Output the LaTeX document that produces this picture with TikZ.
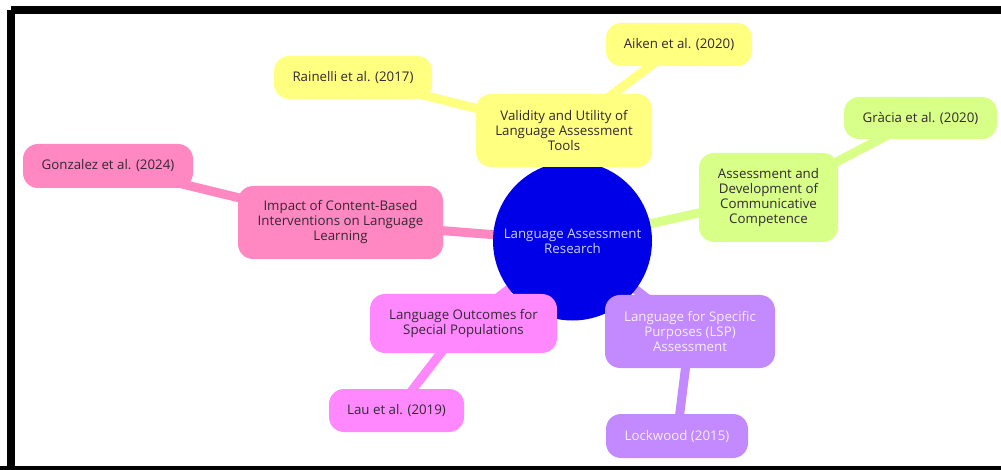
\documentclass[tikz,border=0pt]{standalone}
\usepackage{fontspec}
\setmainfont{Open Sans}
\usetikzlibrary{backgrounds}
\begin{document}
\definecolor{hubblue}{HTML}{0000E8}
\definecolor{hubtext}{HTML}{CFCFFF}
\definecolor{cyellow}{HTML}{FFFF80}
\definecolor{cpink}{HTML}{FF88C2}
\definecolor{cgreen}{HTML}{D8FF88}
\definecolor{cmagenta}{HTML}{FF88FF}
\definecolor{cpurple}{HTML}{C389FF}
\definecolor{inktext}{HTML}{332833}
\definecolor{lighttext}{HTML}{F4EEFF}
\begin{tikzpicture}[x=1pt,y=-1pt,
  topic/.style={rounded corners=15pt, align=center, inner sep=0pt,
    font=\fontsize{13.3}{15}\selectfont, text=inktext},
  link/.style={line width=9pt},
]
\useasboundingbox (0,0) rectangle (1001,470);
% outer frame
\draw[line width=8pt] (11,10) -- (1010,10);
\draw[line width=8pt] (11,10) -- (11,470);
\draw[line width=8pt] (0,470) -- (1001,470);

% hub and topics
\node[circle, fill=hubblue, minimum size=159pt, inner sep=0pt, align=center,
      text=hubtext, font=\fontsize{13.3}{15}\selectfont]
  (hub) at (572.5,241) {Language Assessment\\Research};

\node[topic, fill=cyellow, minimum width=176pt, minimum height=73pt]
  (valid) at (564,130.5) {Validity and Utility of\\Language Assessment\\Tools};
\node[topic, fill=cyellow, minimum width=146pt, minimum height=43pt]
  (aiken) at (679,44.5) {Aiken et al. (2020)};
\node[topic, fill=cyellow, minimum width=158pt, minimum height=43pt]
  (rain) at (353,77.5) {Rainelli et al. (2017)};

\node[topic, fill=cpink, minimum width=205pt, minimum height=73pt]
  (impact) at (340.5,222.5) {Impact of Content-Based\\Interventions on Language\\Learning};
\node[topic, fill=cpink, minimum width=170pt, minimum height=44pt]
  (gonz) at (108,166) {Gonzalez et al. (2024)};

\node[topic, fill=cgreen, minimum width=139pt, minimum height=89pt]
  (assess) at (768.5,197.5) {Assessment and\\Development of\\Communicative\\Competence};
\node[topic, fill=cgreen, minimum width=153pt, minimum height=42pt]
  (gracia) at (920.5,118) {Gràcia et al. (2020)};

\node[topic, fill=cmagenta, minimum width=187pt, minimum height=59pt]
  (outc) at (463.5,323.5) {Language Outcomes for\\Special Populations};
\node[topic, fill=cmagenta, minimum width=135pt, minimum height=43pt]
  (lau) at (396.5,410.5) {Lau et al. (2019)};

\node[topic, fill=cpurple, text=lighttext, minimum width=170pt, minimum height=73pt]
  (lsp) at (690,331.5) {Language for Specific\\Purposes (LSP)\\Assessment};
\node[topic, fill=cpurple, text=lighttext, minimum width=142pt, minimum height=44pt]
  (lock) at (677,436) {Lockwood (2015)};

% connectors, drawn underneath the nodes
\begin{scope}[on background layer]
  \draw[link, cyellow] (hub.center) -- (valid.center);
  \draw[link, cyellow] (valid.center) -- (aiken.center);
  \draw[link, cyellow] (valid.center) -- (rain.center);
  \draw[link, cpink] (hub.center) -- (impact.center);
  \draw[link, cpink] (impact.center) -- (gonz.center);
  \draw[link, cgreen] (hub.center) -- (assess.center);
  \draw[link, cgreen] (assess.center) -- (gracia.center);
  \draw[link, cmagenta] (hub.center) -- (outc.center);
  \draw[link, cmagenta] (outc.center) -- (lau.center);
  \draw[link, cpurple] (hub.center) -- (lsp.center);
  \draw[link, cpurple] (lsp.center) -- (lock.center);
\end{scope}
\end{tikzpicture}
\end{document}
